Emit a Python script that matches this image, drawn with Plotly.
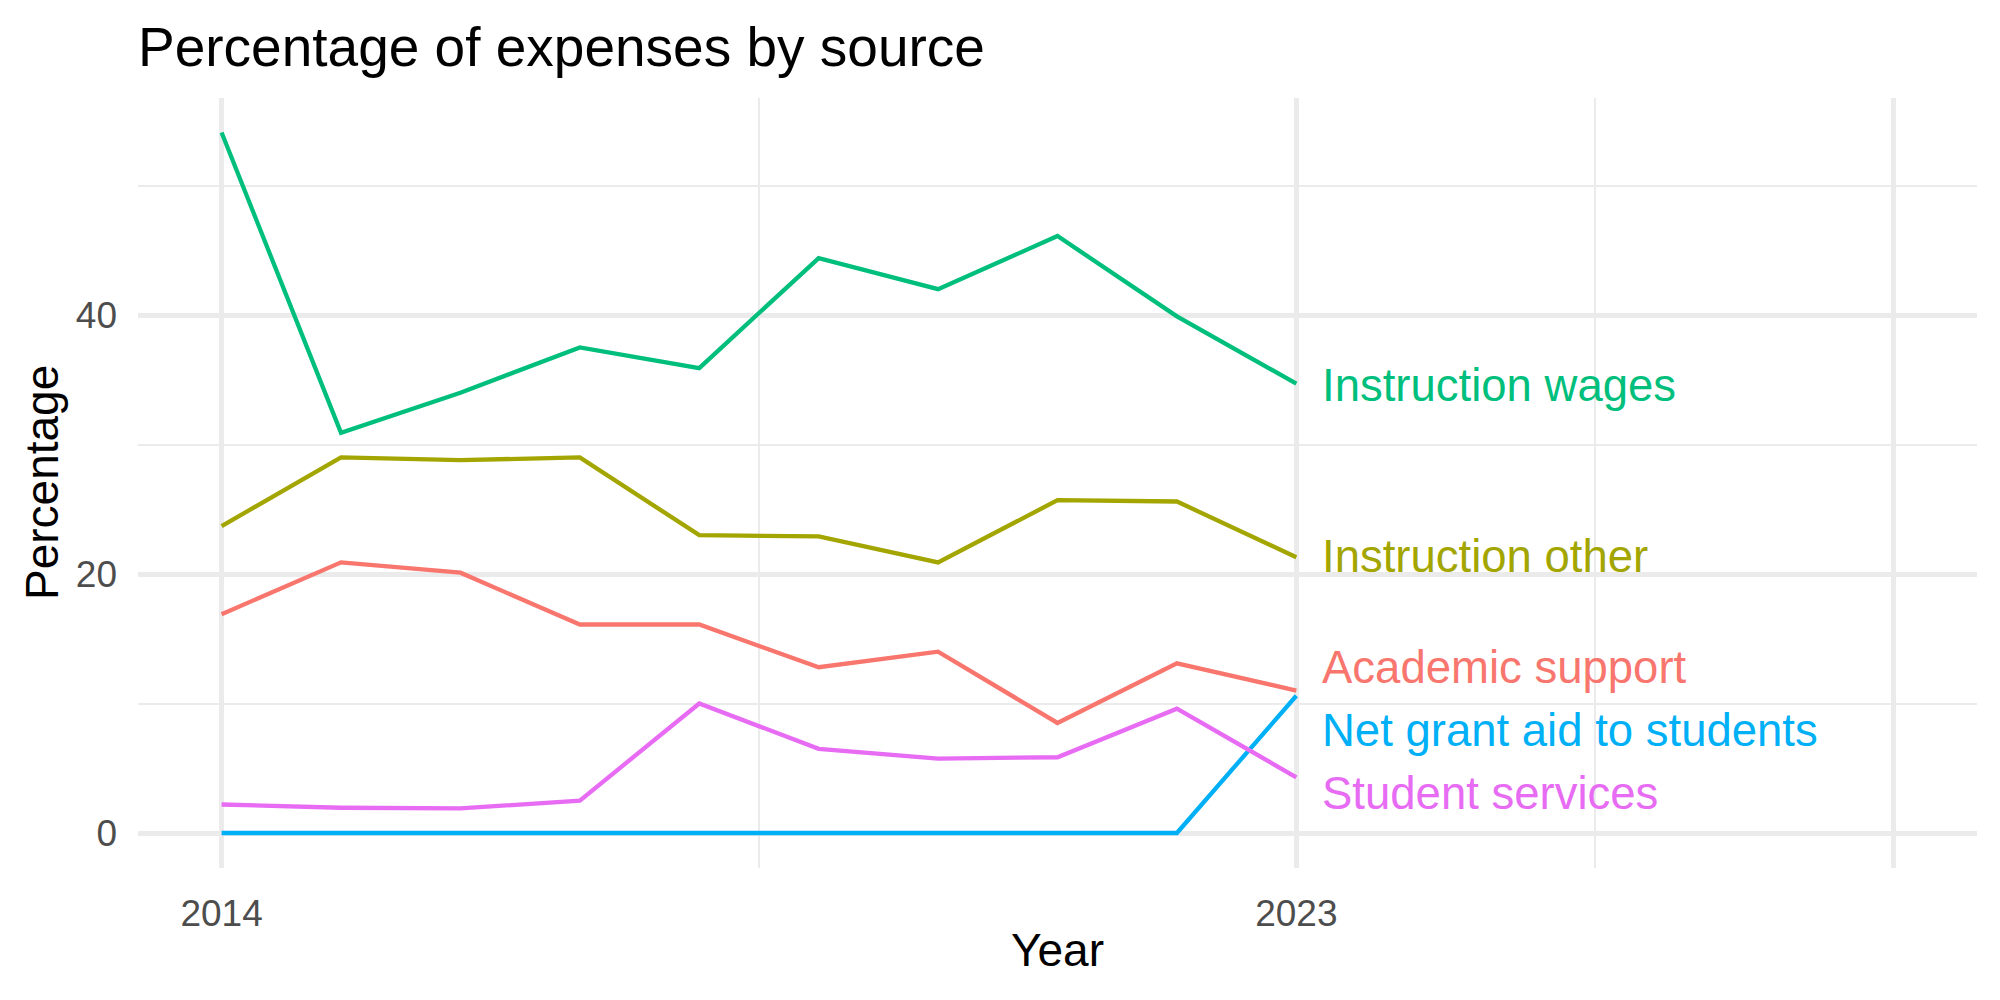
import plotly.graph_objects as go

years = [2014, 2015, 2016, 2017, 2018, 2019, 2020, 2021, 2022, 2023]

academic_support = [16.9, 20.9, 20.1, 16.1, 16.1, 12.8, 14.0, 8.5, 13.1, 11.0]
instruction_other = [23.7, 29.0, 28.8, 29.0, 23.0, 22.9, 20.9, 25.7, 25.6, 21.3]
instruction_wages = [54.1, 30.9, 34.0, 37.5, 35.9, 44.4, 42.0, 46.1, 39.9, 34.7]
net_grant_aid = [0, 0, 0, 0, 0, 0, 0, 0, 0, 10.6]
student_services = [2.2, 1.95, 1.9, 2.5, 10.0, 6.5, 5.75, 5.85, 9.6, 4.3]

series_names = ["Academic support", "Instruction other", "Instruction wages",
                "Net grant aid to students", "Student services"]
series_values = [academic_support, instruction_other, instruction_wages,
                 net_grant_aid, student_services]
colors = ["#F8766D", "#A3A500", "#00BF7D", "#00B0F6", "#E76BF3"]

# label positions (repelled, as in the original)
label_x = 2023.2
label_y = [12.75, 21.33, 34.58, 7.9, 3.03]

x_tick_vals = [2014, 2023, 2028]
x_tick_text = ["2014", "2023", ""]
y_tick_vals = [0, 20, 40]

FONT = "Liberation Sans, Arial, Helvetica, sans-serif"

fig = go.Figure()
for name, vals, col in zip(series_names, series_values, colors):
    fig.add_trace(go.Scatter(x=years, y=vals, mode="lines", name=name,
                             line=dict(color=col, width=4.3), showlegend=False))

for name, ly, col in zip(series_names, label_y, colors):
    fig.add_annotation(x=label_x, y=ly, xref="x", yref="y", text=name,
                       showarrow=False, xanchor="left", yanchor="middle",
                       font=dict(family=FONT, size=45.5, color=col))

W, H = 2000, 1000
L, R, T, B = 138, 23, 98, 132

fig.update_layout(
    width=W, height=H,
    margin=dict(l=L, r=R, t=T, b=B, pad=0),
    paper_bgcolor="white", plot_bgcolor="white",
    font=dict(family=FONT, color="#4D4D4D"),
    title=dict(text="Percentage of expenses by source", x=L / W, xref="container",
               xanchor="left", y=1 - 47 / H, yref="container", yanchor="middle",
               font=dict(family=FONT, size=55, color="black")),
    xaxis=dict(range=[2013.3, 2028.7], tickmode="array", tickvals=x_tick_vals,
               ticktext=x_tick_text, showgrid=True, gridcolor="#EBEBEB", gridwidth=4.5,
               zeroline=False, showline=False, ticks="", ticklabelstandoff=20,
               tickfont=dict(family=FONT, size=37, color="#4D4D4D"),
               minor=dict(tickmode="array", tickvals=[2018.5, 2025.5], showgrid=True,
                          gridcolor="#EBEBEB", gridwidth=2.3, ticks="")),
    yaxis=dict(range=[-2.703, 56.76], tickmode="array", tickvals=y_tick_vals,
               showgrid=True, gridcolor="#EBEBEB", gridwidth=4.5,
               zeroline=False, showline=False, ticks="", ticklabelstandoff=20,
               tickfont=dict(family=FONT, size=37, color="#4D4D4D"),
               minor=dict(tickmode="array", tickvals=[10, 30, 50], showgrid=True,
                          gridcolor="#EBEBEB", gridwidth=2.3, ticks="")),
)

fig.add_annotation(text="Year", x=0.5, xref="paper",
                   y=(H - B - 950) / (H - T - B), yref="paper", yanchor="middle",
                   showarrow=False, font=dict(family=FONT, size=46, color="black"))
fig.add_annotation(text="Percentage", x=(42 - L) / (W - L - R), xref="paper",
                   y=0.5, yref="paper", textangle=-90, showarrow=False,
                   xanchor="center", yanchor="middle",
                   font=dict(family=FONT, size=46, color="black"))

fig.write_html("out.html")
